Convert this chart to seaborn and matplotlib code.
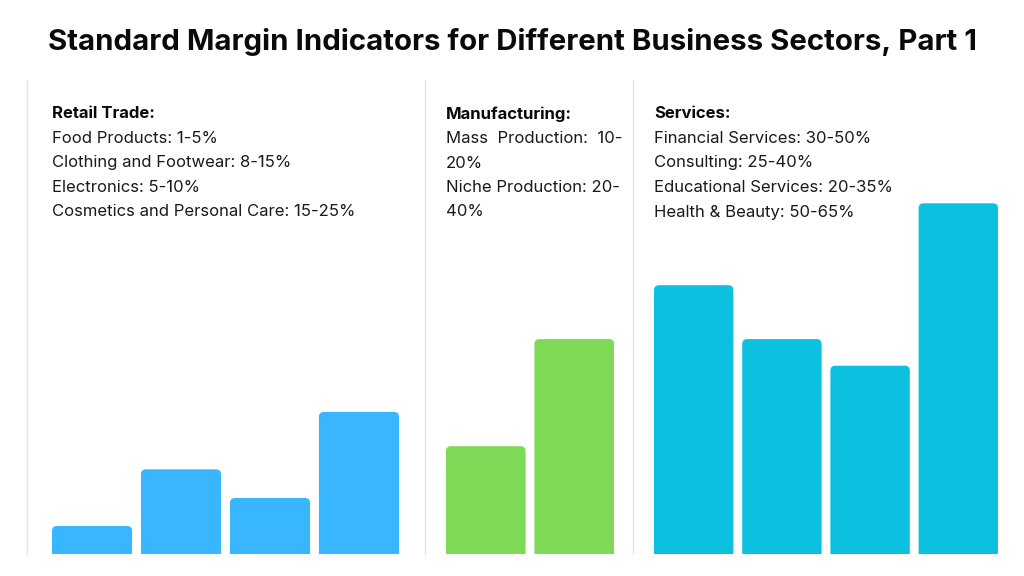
import matplotlib
matplotlib.use("Agg")
import matplotlib.pyplot as plt
from matplotlib.patches import FancyBboxPatch
from matplotlib.lines import Line2D
import seaborn as sns

# ---------------- data ----------------
title = "Standard Margin Indicators for Different Business Sectors, Part 1"

retail_header = "Retail Trade:"
retail_lines = ["Food Products: 1-5%", "Clothing and Footwear: 8-15%",
                "Electronics: 5-10%", "Cosmetics and Personal Care: 15-25%"]
retail_cats = ["Food Products", "Clothing and Footwear", "Electronics",
               "Cosmetics and Personal Care"]
retail_values = [4.0, 12.1, 8.0, 20.3]

manuf_header = "Manufacturing:"
manuf_lines = ["Mass  Production:  10-", "20%", "Niche Production: 20-", "40%"]
manuf_cats = ["Mass Production", "Niche Production"]
manuf_values = [15.4, 30.7]

serv_header = "Services:"
serv_lines = ["Financial Services: 30-50%", "Consulting: 25-40%",
              "Educational Services: 20-35%", "Health & Beauty: 50-65%"]
serv_cats = ["Financial Services", "Consulting", "Educational Services",
             "Health & Beauty"]
serv_values = [38.4, 30.7, 26.9, 50.1]

colors = ["#38B6FF", "#7ED957", "#0CC0DF"]

# ---------------- figure ----------------
sns.set_theme(style="white")
plt.rcParams["font.family"] = ["Inter", "DejaVu Sans"]

W, H = 1024, 576
fig = plt.figure(figsize=(W / 100, H / 100), dpi=100)
fig.patch.set_facecolor("white")


def fx(x):
    return x / W


def fy(y):
    return 1 - y / H


fig.text(fx(512), fy(42), title, ha="center", va="center", fontsize=21.2,
         fontweight="bold", color="#0a0a0a")

# separators
for xs in [26.5, 425, 633]:
    fig.add_artist(Line2D([fx(xs), fx(xs)], [fy(80), fy(554)],
                          color="#E3E3E3", lw=1.0))

baseline, top = 554, 80
px_per_unit = 7.0
ymax = (baseline - top) / px_per_unit

panels = [
    (52, 399, retail_cats, retail_values, colors[0], retail_header, retail_lines),
    (446, 614, manuf_cats, manuf_values, colors[1], manuf_header, manuf_lines),
    (654, 998, serv_cats, serv_values, colors[2], serv_header, serv_lines),
]

for (x0, x1, cats, vals, col, header, lines) in panels:
    ax = fig.add_axes([fx(x0), fy(baseline), fx(x1) - fx(x0),
                       (baseline - top) / H])
    sns.barplot(x=cats, y=vals, color=col, saturation=1, width=0.9, ax=ax)
    n = len(cats)
    ax.set_xlim(-0.45, n - 0.55)
    ax.set_ylim(0, ymax)
    ax.axis("off")
    # rounded top corners
    xunit_px = (x1 - x0) / (n - 0.1)
    r_px = 5.0
    r = r_px / xunit_px
    aspect = (1 / px_per_unit) / (1 / xunit_px)
    bars = list(ax.patches)
    for p in bars:
        bx, by = p.get_x(), p.get_y()
        bw, bh = p.get_width(), p.get_height()
        ext = 2 * r_px / px_per_unit
        fb = FancyBboxPatch((bx, by - ext), bw, bh + ext,
                            boxstyle=f"round,pad=0,rounding_size={r}",
                            mutation_aspect=aspect, facecolor=col,
                            edgecolor="none", linewidth=0)
        ax.add_patch(fb)
        p.remove()
    # texts
    fig.text(fx(x0), fy(114), header, ha="left", va="center", fontsize=12,
             fontweight="bold", color="#0a0a0a")
    for i, ln in enumerate(lines):
        fig.text(fx(x0), fy(138.5 + i * 24.5), ln, ha="left", va="center",
                 fontsize=12, color="#1a1a1a")

fig.savefig("out.png", dpi=100, facecolor="white")
